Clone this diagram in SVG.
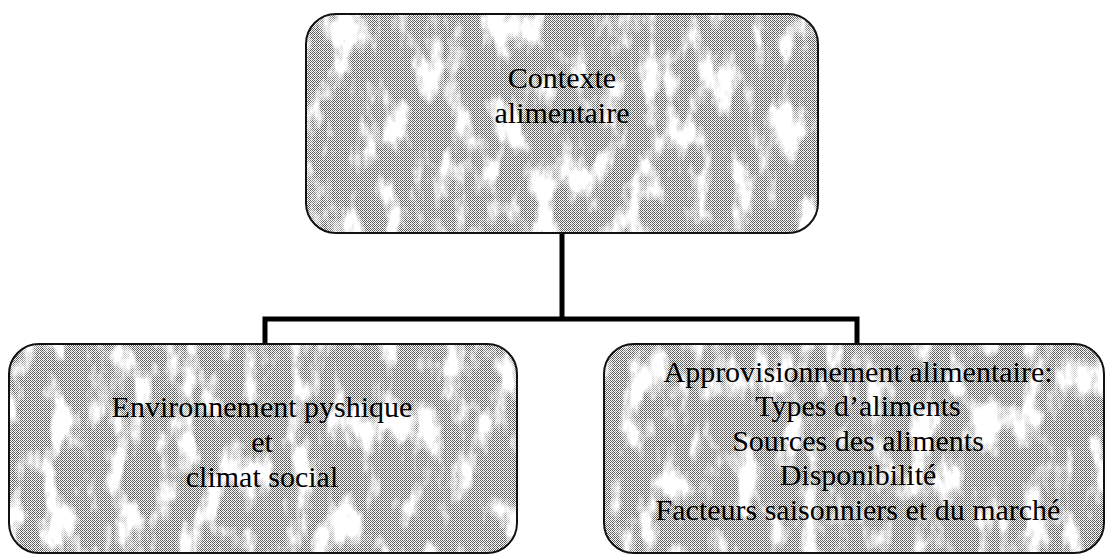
<svg xmlns="http://www.w3.org/2000/svg" width="1107" height="556" viewBox="0 0 1107 556">
  <defs>
    <pattern id="dots" width="4" height="4" patternUnits="userSpaceOnUse">
      <rect width="4" height="4" fill="#ffffff"/>
      <rect x="0" y="0" width="1" height="1" fill="#5a5a5a"/>
      <rect x="2" y="0" width="1" height="1" fill="#5a5a5a"/>
      <rect x="1" y="1" width="1" height="1" fill="#5a5a5a"/>
      <rect x="3" y="1" width="1" height="1" fill="#5a5a5a"/>
      <rect x="0" y="2" width="1" height="1" fill="#5a5a5a"/>
      <rect x="2" y="2" width="1" height="1" fill="#5a5a5a"/>
      <rect x="1" y="3" width="1" height="1" fill="#5a5a5a"/>
      <rect x="3" y="3" width="1" height="1" fill="#9a9a9a"/>
    </pattern>
    <filter id="tex" x="0" y="0" width="1" height="1" color-interpolation-filters="sRGB">
      <feTurbulence type="fractalNoise" baseFrequency="0.045 0.02" numOctaves="4" seed="11" result="n"/>
      <feColorMatrix in="n" type="matrix" values="0 0 0 0 1  0 0 0 0 1  0 0 0 0 1  -5 0 0 0 2.6" result="w"/>
      <feComposite in="w" in2="SourceGraphic" operator="in"/>
    </filter>
  </defs>
  <style>
    .box { fill: url(#dots); }
    .edge { fill: none; stroke: #111; stroke-width: 2; }
    .lbl { font-family: "Liberation Serif", "Times New Roman", serif; font-size: 30px; fill: #000; text-anchor: middle; }
    .conn { fill: none; stroke: #000; stroke-width: 5; }
  </style>
  <rect width="1107" height="556" fill="#ffffff"/>

  <g id="connectors">
    <line class="conn" x1="562" y1="233" x2="562" y2="319"/>
    <polyline class="conn" points="265,343 265,319 857,319 857,343"/>
  </g>

  <g id="node-contexte">
    <rect class="box" x="306" y="14" width="512" height="219" rx="30"/>
    <rect x="306" y="14" width="512" height="219" rx="30" fill="#fff" filter="url(#tex)"/>
    <rect class="edge" x="306" y="14" width="512" height="219" rx="30"/>
    <text class="lbl" x="562" y="88">Contexte</text>
    <text class="lbl" x="562" y="123">alimentaire</text>
  </g>

  <g id="node-environnement">
    <rect class="box" x="9" y="344" width="508" height="209" rx="30"/>
    <rect x="9" y="344" width="508" height="209" rx="30" fill="#fff" filter="url(#tex)"/>
    <rect class="edge" x="9" y="344" width="508" height="209" rx="30"/>
    <text class="lbl" x="262" y="417">Environnement pyshique</text>
    <text class="lbl" x="262" y="452">et</text>
    <text class="lbl" x="262" y="487">climat social</text>
  </g>

  <g id="node-approvisionnement">
    <rect class="box" x="604" y="344" width="500" height="209" rx="30"/>
    <rect x="604" y="344" width="500" height="209" rx="30" fill="#fff" filter="url(#tex)"/>
    <rect class="edge" x="604" y="344" width="500" height="209" rx="30"/>
    <text class="lbl" x="858" y="382">Approvisionnement alimentaire:</text>
    <text class="lbl" x="858" y="416">Types d’aliments</text>
    <text class="lbl" x="858" y="451">Sources des aliments</text>
    <text class="lbl" x="858" y="485">Disponibilité</text>
    <text class="lbl" x="858" y="520">Facteurs saisonniers et du marché</text>
  </g>
</svg>
